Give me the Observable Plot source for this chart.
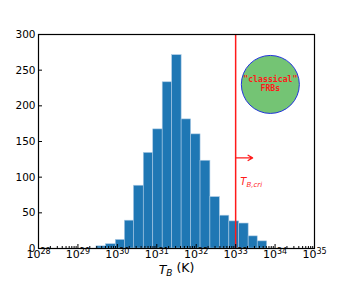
<!DOCTYPE html>
<html><head><meta charset="utf-8">
<script src="https://cdn.jsdelivr.net/npm/d3@7"></script>
<script src="https://cdn.jsdelivr.net/npm/@observablehq/plot@0.6"></script>
<style>body{margin:0;background:#fff} #chart svg{font-family:"DejaVu Sans",sans-serif;background:#fff}</style>
</head><body><div id="chart"></div>
<script>
// Histogram bin edges (log10 of T_B in K) and counts
const binEdgesLog = [29.47,29.71,29.96,30.19,30.42,30.67,30.91,31.15,31.39,31.63,31.87,32.11,32.36,32.60,32.84,33.09,33.33,33.56,33.80];
const counts = [3,6,12,39,88,134,167,233,271,181,160,123,72,46,38,35,17,10];
// axis ticks
const xMajorExponents = [28,29,30,31,32,33,34,35];
const yTickValues = [0,50,100,150,200,250,300];
// annotations
const criticalLog = 33;
const arrowEndLog = 33.43;
const arrowCount = 127;
const criLabelLog = 33.12;
const criLabelCount = 93;
const circleLog = 33.88;
const circleCount = 230;
const circleLines = ['"classical"', 'FRBs'];

const bins = counts.map((c, i) => ({x1: 10 ** binEdgesLog[i], x2: 10 ** binEdgesLog[i + 1], count: c}));
const majorTicks = xMajorExponents.map(e => 10 ** e);
const minorTicks = [];
for (let e = xMajorExponents[0]; e < xMajorExponents[xMajorExponents.length - 1]; e++)
  for (let m = 2; m < 10; m++) minorTicks.push(m * 10 ** e);

const plot = Plot.plot({
  width: 349, height: 284,
  marginLeft: 38, marginRight: 35, marginTop: 34, marginBottom: 36,
  style: {fontSize: "10.5px", fontFamily: "DejaVu Sans"},
  x: {type: "log", domain: [10 ** 28, 10 ** 35]},
  y: {domain: [0, 300]},
  marks: [
    Plot.rectY(bins, {x1: "x1", x2: "x2", y: "count", fill: "#1f77b4", stroke: "#a9c9e4", strokeWidth: 0.6}),
    Plot.ruleX([10 ** criticalLog], {stroke: "#ff1a1a", strokeWidth: 1.5}),
    Plot.arrow([{}], {x1: 10 ** criticalLog, x2: 10 ** arrowEndLog, y1: arrowCount, y2: arrowCount, stroke: "#ff1a1a", strokeWidth: 1.3, headLength: 6}),
    Plot.text(["T_B,cri"], {x: 10 ** criLabelLog, y: criLabelCount, textAnchor: "start", fill: "#ff1a1a", fontSize: 10, fontStyle: "italic"}),
    Plot.dot([{}], {x: 10 ** circleLog, y: circleCount, r: 29, fill: "#74c474", stroke: "#2233dd", strokeWidth: 1}),
    Plot.text([circleLines[0]], {x: 10 ** circleLog, y: circleCount, dy: -5, fill: "#ff1a1a", fontSize: 8.2, fontWeight: "bold", fontFamily: "DejaVu Sans Mono"}),
    Plot.text([circleLines[1]], {x: 10 ** circleLog, y: circleCount, dy: 4, fill: "#ff1a1a", fontSize: 8.2, fontWeight: "bold", fontFamily: "DejaVu Sans Mono"}),
    Plot.frame({stroke: "#000", strokeWidth: 1.2}),
    Plot.axisY({ticks: yTickValues, tickSize: -4, tickPadding: 7, label: null, fontSize: 10.5}),
    Plot.axisX({ticks: minorTicks, tickSize: -2, tickFormat: () => "", label: null}),
    Plot.axisX({ticks: majorTicks, tickSize: -4, tickPadding: 6, tickFormat: d => "10^" + Math.round(Math.log10(d)), label: null, fontSize: 11}),
    Plot.text(["T_B (K)"], {frameAnchor: "bottom", dy: 25, fontSize: 12.5})
  ]
});
document.getElementById("chart").appendChild(plot);

// rich text: superscripts and subscripts
d3.select(plot).selectAll("text").each(function () {
  const t = this.textContent;
  const sel = d3.select(this);
  let m;
  if ((m = /^10\^(\d+)$/.exec(t))) {
    sel.text(null);
    sel.append("tspan").text("10");
    sel.append("tspan").attr("dy", "-0.55em").attr("font-size", "8px").text(m[1]);
  } else if (t === "T_B (K)") {
    sel.text(null);
    sel.append("tspan").attr("font-style", "italic").text("T");
    sel.append("tspan").attr("font-style", "italic").attr("dy", "0.3em").attr("font-size", "9px").text("B");
    sel.append("tspan").attr("dy", "-0.3em").text(" (K)");
  } else if (t === "T_B,cri") {
    sel.text(null);
    sel.append("tspan").text("T");
    sel.append("tspan").attr("dy", "0.3em").attr("font-size", "7px").text("B,cri");
  }
});
</script>
</body></html>
